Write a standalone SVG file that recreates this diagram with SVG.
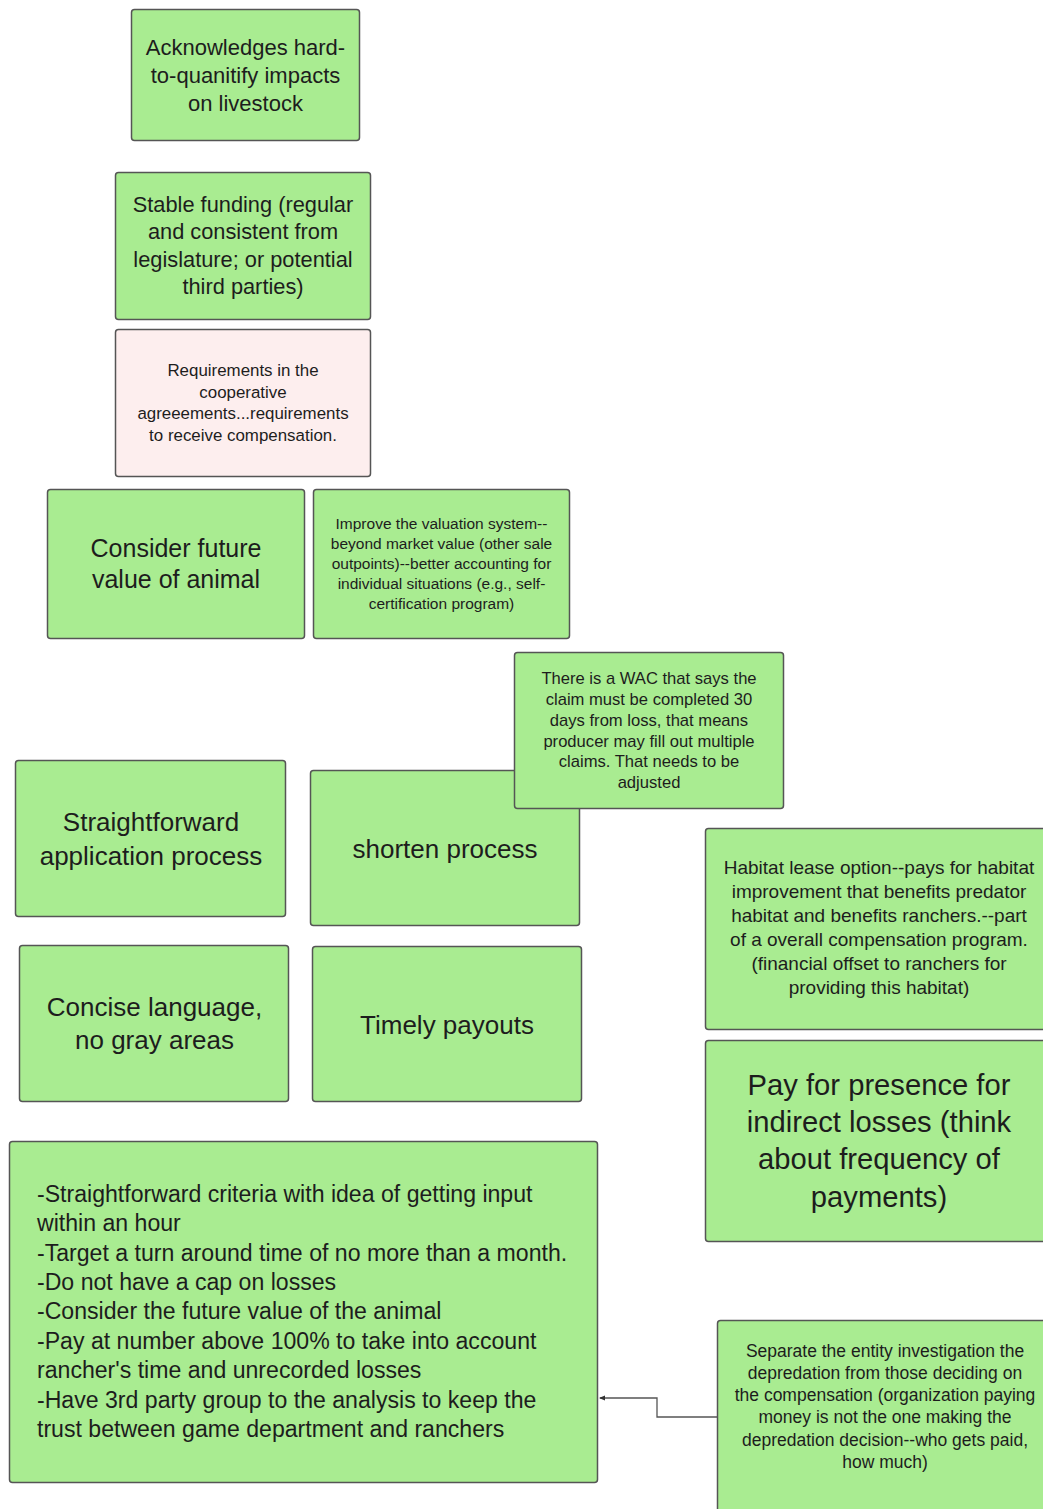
<svg xmlns="http://www.w3.org/2000/svg" width="1043" height="1509" viewBox="0 0 1043 1509">
<defs>
<style>
.n{fill:#a9ec91;stroke:#555;stroke-width:1.5}
.p{fill:#fdeeee;stroke:#555;stroke-width:1.5}
text{font-family:"Liberation Sans",Arial,sans-serif;fill:#1d1d1d}
.c{text-anchor:middle}
.e{fill:none;stroke:#555;stroke-width:1.3}
</style>
<marker id="ah" viewBox="0 0 6 6" refX="5" refY="3" markerWidth="5" markerHeight="5" orient="auto">
<path d="M0,0.5 L6,3 L0,5.5 Z" fill="#333"/>
</marker>
</defs>
<rect width="1043" height="1509" fill="#fff"/>

<g id="connectors">
<path class="e" d="M717,1417 H657 V1398 H600" marker-end="url(#ah)"/>
</g>

<g id="n1">
<rect class="n" x="131.5" y="9.5" width="228" height="131" rx="3"/>
<text class="c" font-size="22"><tspan x="245.5" y="54.5">Acknowledges hard-</tspan><tspan x="245.5" y="82.5">to-quanitify impacts</tspan><tspan x="245.5" y="110.5">on livestock</tspan></text>
</g>

<g id="n2">
<rect class="n" x="115.5" y="172.5" width="255" height="147" rx="3"/>
<text class="c" font-size="21.8"><tspan x="243" y="212">Stable funding (regular</tspan><tspan x="243" y="239">and consistent from</tspan><tspan x="243" y="267">legislature; or potential</tspan><tspan x="243" y="294">third parties)</tspan></text>
</g>

<g id="n3">
<rect class="p" x="115.5" y="329.5" width="255" height="147" rx="3"/>
<text class="c" font-size="16.9"><tspan x="243" y="375.5">Requirements in the</tspan><tspan x="243" y="397.5">cooperative</tspan><tspan x="243" y="418.5">agreeements...requirements</tspan><tspan x="243" y="440.5">to receive compensation.</tspan></text>
</g>

<g id="n4">
<rect class="n" x="47.5" y="489.5" width="257" height="149" rx="3"/>
<text class="c" font-size="25"><tspan x="176" y="557">Consider future</tspan><tspan x="176" y="588">value of animal</tspan></text>
</g>

<g id="n5">
<rect class="n" x="313.5" y="489.5" width="256" height="149" rx="3"/>
<text class="c" font-size="15.5"><tspan x="441.5" y="529">Improve the valuation system--</tspan><tspan x="441.5" y="549">beyond market value (other sale</tspan><tspan x="441.5" y="569">outpoints)--better accounting for</tspan><tspan x="441.5" y="589">individual situations (e.g., self-</tspan><tspan x="441.5" y="609">certification program)</tspan></text>
</g>

<g id="n7">
<rect class="n" x="310.5" y="770.5" width="269" height="155" rx="3"/>
<text class="c" font-size="26"><tspan x="445" y="857.5">shorten process</tspan></text>
</g>

<g id="n6">
<rect class="n" x="514.5" y="652.5" width="269" height="156" rx="3"/>
<text class="c" font-size="16.6"><tspan x="649" y="683.5">There is a WAC that says the</tspan><tspan x="649" y="704.5">claim must be completed 30</tspan><tspan x="649" y="725.5">days from loss, that means</tspan><tspan x="649" y="746.5">producer may fill out multiple</tspan><tspan x="649" y="766.5">claims. That needs to be</tspan><tspan x="649" y="787.5">adjusted</tspan></text>
</g>

<g id="n8">
<rect class="n" x="15.5" y="760.5" width="270" height="156" rx="3"/>
<text class="c" font-size="26"><tspan x="151" y="830.5">Straightforward</tspan><tspan x="151" y="864.5">application process</tspan></text>
</g>

<g id="n9">
<rect class="n" x="19.5" y="945.5" width="269" height="156" rx="3"/>
<text class="c" font-size="26"><tspan x="154.5" y="1015.5">Concise language,</tspan><tspan x="154.5" y="1048.5">no gray areas</tspan></text>
</g>

<g id="n10">
<rect class="n" x="312.5" y="946.5" width="269" height="155" rx="3"/>
<text class="c" font-size="26"><tspan x="447" y="1033.5">Timely payouts</tspan></text>
</g>

<g id="n11">
<rect class="n" x="705.5" y="828.5" width="345" height="201" rx="3"/>
<text class="c" font-size="19"><tspan x="879" y="874">Habitat lease option--pays for habitat</tspan><tspan x="879" y="898">improvement that benefits predator</tspan><tspan x="879" y="922">habitat and benefits ranchers.--part</tspan><tspan x="879" y="946">of a overall compensation program.</tspan><tspan x="879" y="970">(financial offset to ranchers for</tspan><tspan x="879" y="994">providing this habitat)</tspan></text>
</g>

<g id="n12">
<rect class="n" x="705.5" y="1040.5" width="345" height="201" rx="3"/>
<text class="c" font-size="29.2"><tspan x="879" y="1094.5">Pay for presence for</tspan><tspan x="879" y="1131.5">indirect losses (think</tspan><tspan x="879" y="1168.5">about frequency of</tspan><tspan x="879" y="1206.5">payments)</tspan></text>
</g>

<g id="n13">
<rect class="n" x="9.5" y="1141.5" width="588" height="341" rx="3"/>
<text font-size="23.1"><tspan x="37" y="1201.5">-Straightforward criteria with idea of getting input</tspan><tspan x="37" y="1230.5">within an hour</tspan><tspan x="37" y="1260.5">-Target a turn around time of no more than a month.</tspan><tspan x="37" y="1289.5">-Do not have a cap on losses</tspan><tspan x="37" y="1318.5">-Consider the future value of the animal</tspan><tspan x="37" y="1348.5">-Pay at number above 100% to take into account</tspan><tspan x="37" y="1377.5">rancher's time and unrecorded losses</tspan><tspan x="37" y="1407.5">-Have 3rd party group to the analysis to keep the</tspan><tspan x="37" y="1436.5">trust between game department and ranchers</tspan></text>
</g>

<g id="n14">
<rect class="n" x="717.5" y="1320.5" width="335" height="200" rx="3"/>
<text class="c" font-size="17.5"><tspan x="885" y="1357">Separate the entity investigation the</tspan><tspan x="885" y="1379">depredation from those deciding on</tspan><tspan x="885" y="1401">the compensation (organization paying</tspan><tspan x="885" y="1423">money is not the one making the</tspan><tspan x="885" y="1446">depredation decision--who gets paid,</tspan><tspan x="885" y="1468">how much)</tspan></text>
</g>
</svg>
